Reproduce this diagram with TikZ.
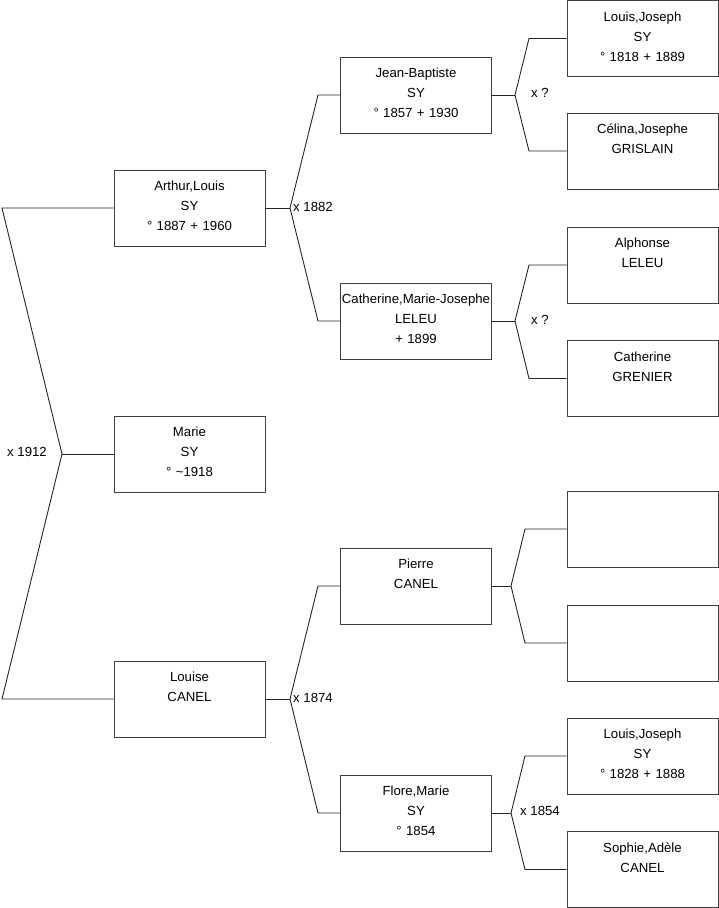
\documentclass[tikz,border=0pt]{standalone}
\usepackage{fontspec}
\setmainfont{Liberation Sans}
\begin{document}
\begin{tikzpicture}[x=1pt,y=-1pt,
  person/.style={draw=black!75, line width=1pt, rectangle, minimum width=151pt, minimum height=76pt,
    inner sep=0pt, text width=151pt, align=center, text height=20.5pt, text depth=55.5pt,
    font=\fontsize{13.2}{20}\selectfont},
  link/.style={draw=black!85, line width=0.9pt},
  union/.style={inner sep=0pt, font=\fontsize{13.2}{15}\selectfont}]
\useasboundingbox (0,0) rectangle (719,908);
% generation 1
\node[person] (arthur) at (189.5,208) {Arthur,Louis\\SY\\° 1887 + 1960};
\node[person] (marie) at (189.5,454) {Marie\\SY\\° \textasciitilde1918};
\node[person] (louise) at (189.5,699) {Louise\\CANEL};
% generation 2
\node[person] (jb) at (416,95) {Jean-Baptiste\\SY\\° 1857 + 1930};
\node[person] (cath) at (416,321) {Catherine,Marie-Josephe\\LELEU\\+ 1899};
\node[person] (pierre) at (416,586) {Pierre\\CANEL};
\node[person] (flore) at (416,813) {Flore,Marie\\SY\\° 1854};
% generation 3
\node[person] (lj1) at (642.5,38.5) {Louis,Joseph\\SY\\° 1818 + 1889};
\node[person] (celina) at (642.5,151) {Célina,Josephe\\GRISLAIN};
\node[person] (alphonse) at (642.5,265) {Alphonse\\LELEU};
\node[person] (catg) at (642.5,378.5) {Catherine\\GRENIER};
\node[person] (e1) at (642.5,529) {};
\node[person] (e2) at (642.5,643) {};
\node[person] (lj2) at (642.5,756) {Louis,Joseph\\SY\\° 1828 + 1888};
\node[person] (sophie) at (642.5,869.5) {Sophie,Adèle\\CANEL};
% forks
\coordinate (f0) at (62,454); \coordinate (f0a) at (2,208); \coordinate (f0b) at (2,699);
\draw[link] (arthur.west) -- (f0a) -- (f0) -- (f0b) -- (louise.west);
\draw[link] (f0) -- (marie.west);
\node[union, anchor=east] (u0) at (47,452) {x 1912};

\coordinate (f1) at (290,208); \coordinate (f1a) at (318,95); \coordinate (f1b) at (318,321);
\draw[link] (arthur.east) -- (f1);
\draw[link] (jb.west) -- (f1a) -- (f1) -- (f1b) -- (cath.west);
\node[union, anchor=west] (u1) at (293,207) {x 1882};

\coordinate (f2) at (290,699); \coordinate (f2a) at (318,586); \coordinate (f2b) at (318,813);
\draw[link] (louise.east) -- (f2);
\draw[link] (pierre.west) -- (f2a) -- (f2) -- (f2b) -- (flore.west);
\node[union, anchor=west] (u2) at (293,698) {x 1874};

\coordinate (f3) at (515,95); \coordinate (f3a) at (529,38.5); \coordinate (f3b) at (529,151);
\draw[link] (jb.east) -- (f3);
\draw[link] (lj1.west) -- (f3a) -- (f3) -- (f3b) -- (celina.west);
\node[union, anchor=west] (u3) at (531,93) {x ?};

\coordinate (f4) at (515,321); \coordinate (f4a) at (529,265); \coordinate (f4b) at (529,378.5);
\draw[link] (cath.east) -- (f4);
\draw[link] (alphonse.west) -- (f4a) -- (f4) -- (f4b) -- (catg.west);
\node[union, anchor=west] (u4) at (531,320) {x ?};

\coordinate (f5) at (511,586); \coordinate (f5a) at (525,529); \coordinate (f5b) at (525,643);
\draw[link] (pierre.east) -- (f5);
\draw[link] (e1.west) -- (f5a) -- (f5) -- (f5b) -- (e2.west);

\coordinate (f6) at (511,813); \coordinate (f6a) at (525,756); \coordinate (f6b) at (525,869.5);
\draw[link] (flore.east) -- (f6);
\draw[link] (lj2.west) -- (f6a) -- (f6) -- (f6b) -- (sophie.west);
\node[union, anchor=west] (u6) at (520,811) {x 1854};
\end{tikzpicture}
\end{document}
